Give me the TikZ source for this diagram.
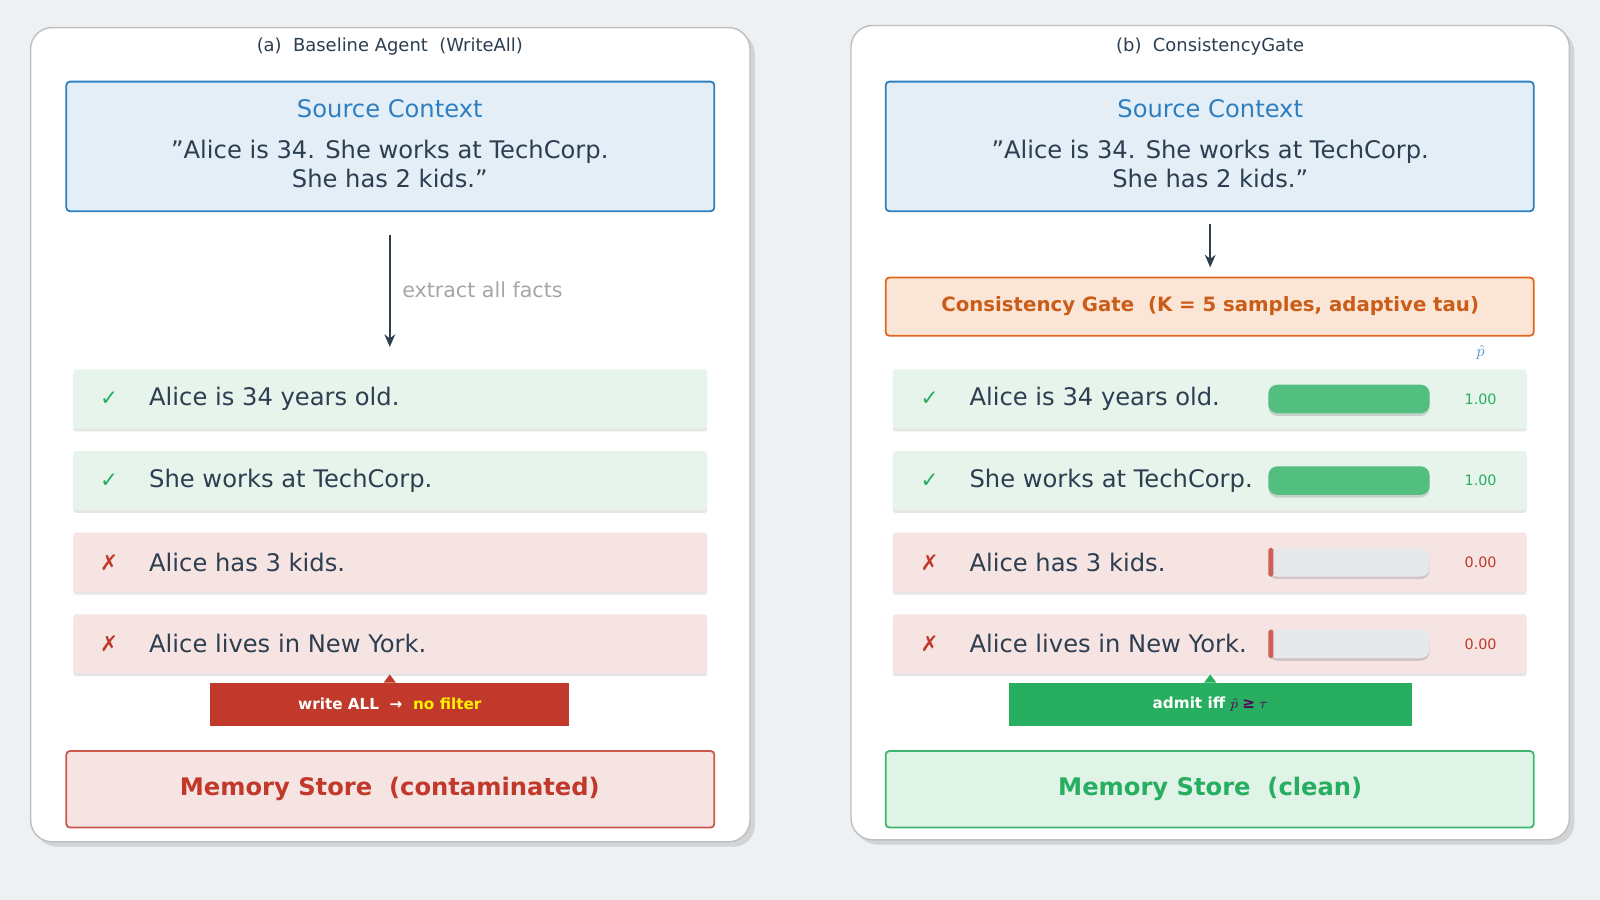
\documentclass[tikz,border=0pt]{standalone}
\usepackage{fontspec}
\setmainfont{DejaVu Sans}
\usetikzlibrary{positioning,shadows,arrows.meta}
\definecolor{ink}{HTML}{2C3E50}
\definecolor{srcfill}{HTML}{E3EEF7}
\definecolor{srcline}{HTML}{2E7FC1}
\definecolor{okfill}{HTML}{E6F4EC}
\definecolor{badfill}{HTML}{F6E4E3}
\definecolor{okgreen}{HTML}{27AE60}
\definecolor{barok}{HTML}{52BF80}
\definecolor{badred}{HTML}{C0392B}
\definecolor{gatefill}{HTML}{FBE5D6}
\definecolor{gateline}{HTML}{E0661A}
\definecolor{barbg}{HTML}{E6E8EA}
\definecolor{cleanfill}{HTML}{DFF3E6}
\definecolor{pagebg}{HTML}{EEF1F3}

\begin{document}
\begin{tikzpicture}[x=0.02cm,y=-0.02cm,
  panel/.style={draw=black!25,fill=white,rounded corners=12pt,line width=0.8pt,drop shadow={opacity=0.25}},
  srcbox/.style={draw=srcline,fill=srcfill,line width=1pt,rounded corners=2pt},
  fact/.style={fill=#1,rounded corners=1.5pt,drop shadow={opacity=0.2,shadow xshift=0pt,shadow yshift=-1.5pt}},
  facttext/.style={anchor=west,text=ink,font=\fontsize{13.5}{16}\selectfont},
  val/.style={font=\fontsize{8}{10}\selectfont},
  flow/.style={ink,line width=1.2pt,-{Stealth[length=7pt,width=6pt]}},
  banner/.style={fill=#1,text=white,font=\fontsize{8.5}{10}\selectfont\bfseries}]
\fill[pagebg] (0,0) rectangle (1568,882);
% ---------- panel (a)
\draw[panel] (30,27) rectangle (735,825);
\node[font=\fontsize{10}{12}\selectfont,text=ink] (titleA) at (382,46) {(a)\ \ Baseline Agent\ \ (WriteAll)};
\draw[srcbox] (65,80) rectangle (700,207);
\node[text=srcline,font=\fontsize{13.5}{16}\selectfont] (srcA) at (382,107) {Source Context};
\node[text=ink,font=\fontsize{13.5}{16}\selectfont,align=center] (quoteA) at (382,161) {\char34\relax Alice is 34. She works at TechCorp.\\She has 2 kids.\char34\relax};
\coordinate (arrA1) at (382,230);
\coordinate (arrA2) at (382,340);
\draw[flow] (arrA1) -- (arrA2);
\node[anchor=west,text=black!35,font=\fontsize{11.5}{14}\selectfont] (extract) at (388,284) {extract all facts};
% ---------- panel (b)
\draw[panel] (834,25) rectangle (1538,823);
\node[font=\fontsize{10}{12}\selectfont,text=ink] (titleB) at (1186,46) {(b)\ \ ConsistencyGate};
\draw[srcbox] (868,80) rectangle (1503,207);
\node[text=srcline,font=\fontsize{13.5}{16}\selectfont] (srcB) at (1186,107) {Source Context};
\node[text=ink,font=\fontsize{13.5}{16}\selectfont,align=center] (quoteB) at (1186,161) {\char34\relax Alice is 34. She works at TechCorp.\\She has 2 kids.\char34\relax};
\coordinate (arrB1) at (1186,220);
\draw[draw=gateline,fill=gatefill,line width=1pt,rounded corners=2pt] (868,272) rectangle (1503,329);
\node[text=gateline!90!black,font=\fontsize{11}{13}\selectfont\bfseries] (gate) at (1186,300) {Consistency Gate\ \ (K = 5 samples, adaptive tau)};
\coordinate (arrB2) at (1186,262);
\draw[flow] (arrB1) -- (arrB2);
\node[text=srcline!80,font=\small] (phat) at (1451,345) {$\hat p$};
% ---------- fact rows
\foreach \y/\ok/\txt/\v in {391/1/Alice is 34 years old./1.00, 471/1/She works at TechCorp./1.00,
                            551/0/Alice has 3 kids./0.00, 631/0/Alice lives in New York./0.00}{
  \ifnum\ok=1 \def\rowc{okfill}\def\mc{okgreen}\def\mk{✓}\else \def\rowc{badfill}\def\mc{badred}\def\mk{✗}\fi
  \fill[fact=\rowc] (72,\y-29) rectangle (693,\y+29);
  \node[text=\mc,font=\large] at (107,\y) {\mk};
  \node[facttext] at (140,\y) {\txt};
  \fill[fact=\rowc] (875,\y-29) rectangle (1496,\y+29);
  \node[text=\mc,font=\large] at (911,\y) {\mk};
  \node[facttext] at (944,\y) {\txt};
  \fill[barbg,rounded corners=5pt,drop shadow={opacity=0.3,shadow xshift=0pt,shadow yshift=-1.5pt}] (1243,\y-14) rectangle (1401,\y+14);
  \ifnum\ok=1 \fill[barok,rounded corners=5pt] (1243,\y-14) rectangle (1401,\y+14);
  \else \fill[badred!80,rounded corners=1pt] (1243,\y-14) rectangle (1248,\y+14); \fi
  \node[val,text=\mc] at (1451,\y) {\v};
}
% ---------- banners
\node[banner=badred,minimum width=352*0.02cm,minimum height=42*0.02cm] (writeAll) at (382,690) {write ALL\ \ →\ \ \textcolor{yellow}{no filter}};
\fill[badred] (376,669) -- (382,661) -- (388,669) -- cycle;
\node[banner=okgreen,minimum width=395*0.02cm,minimum height=42*0.02cm] (admit) at (1186,690) {admit iff \textcolor{violet!70!black}{$\hat p\;$≥$\;\tau$}};
\fill[okgreen] (1180,669) -- (1186,661) -- (1192,669) -- cycle;
% ---------- memory stores
\draw[draw=badred!85,fill=badfill,line width=1pt,rounded corners=2pt] (65,736) rectangle (700,811);
\node[text=badred,font=\fontsize{13.5}{16}\selectfont\bfseries] (memA) at (382,773) {Memory Store\ \ (contaminated)};
\draw[draw=okgreen!90,fill=cleanfill,line width=1pt,rounded corners=2pt] (868,736) rectangle (1503,811);
\node[text=okgreen,font=\fontsize{13.5}{16}\selectfont\bfseries] (memB) at (1186,773) {Memory Store\ \ (clean)};
\end{tikzpicture}
\end{document}
